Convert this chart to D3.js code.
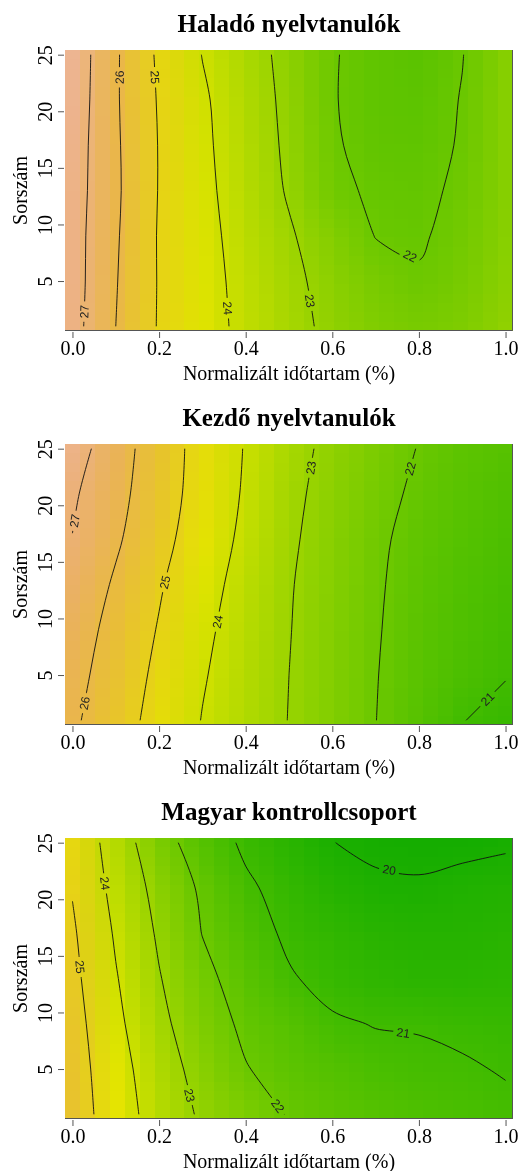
<!DOCTYPE html>
<html>
<head>
<meta charset="utf-8">
<script src="https://cdn.jsdelivr.net/npm/d3@7"></script>
<style>
  body { margin: 0; background: #fff; }
  #wrap { position: relative; width: 522px; height: 1171px; }
  #wrap canvas, #wrap svg { position: absolute; left: 0; top: 0; }
</style>
</head>
<body>
<div id="wrap"></div>
<script>
// grid the fitted surface was read on (x = normalised duration, y = Sorszám)
const xGrid = [0, 0.1, 0.2, 0.3, 0.4, 0.5, 0.6, 0.7, 0.8, 0.9, 1.0];
const yGrid = [1, 5, 9, 13, 17, 21, 25];

// one row per yGrid value, bottom (1) to top (25)
const haladoZ = [
  [27.35, 26.0, 24.93, 24.35, 23.78, 23.28, 22.8, 22.45, 22.3, 22.45, 22.8],
  [27.4, 26.05, 24.94, 24.31, 23.74, 23.21, 22.7, 22.3, 22.06, 22.3, 22.7],
  [27.4, 26.1, 24.93, 24.27, 23.66, 23.09, 22.53, 21.98, 21.93, 22.2, 22.65],
  [27.45, 26.15, 24.96, 24.22, 23.56, 22.92, 22.15, 21.9, 21.85, 22.12, 22.6],
  [27.5, 26.13, 24.96, 24.17, 23.5, 22.85, 22.07, 21.8, 21.75, 22.06, 22.6],
  [27.6, 26.1, 24.92, 24.12, 23.45, 22.8, 22.04, 21.75, 21.7, 22.03, 22.6],
  [27.65, 26.11, 24.85, 23.98, 23.38, 22.74, 22.05, 21.75, 21.65, 21.98, 22.6]
];
const kezdoZ = [
  [26.15, 25.41, 24.68, 23.97, 23.48, 22.98, 22.5, 22.01, 21.52, 21.02, 20.8],
  [26.3, 25.55, 24.8, 24.07, 23.53, 23.0, 22.52, 22.03, 21.6, 21.28, 21.03],
  [26.45, 25.7, 24.94, 24.19, 23.58, 23.03, 22.54, 22.06, 21.65, 21.35, 21.15],
  [26.7, 25.88, 25.09, 24.34, 23.67, 23.06, 22.57, 22.09, 21.7, 21.42, 21.22],
  [26.98, 26.13, 25.29, 24.52, 23.8, 23.13, 22.62, 22.14, 21.75, 21.5, 21.3],
  [27.13, 26.29, 25.43, 24.63, 23.9, 23.2, 22.7, 22.26, 21.85, 21.6, 21.4],
  [27.45, 26.42, 25.48, 24.67, 23.95, 23.3, 22.78, 22.37, 21.97, 21.7, 21.55]
];
const kontrollZ = [
  [25.5, 24.49, 23.57, 22.87, 22.4, 21.95, 21.7, 21.5, 21.35, 21.25, 21.15],
  [25.45, 24.38, 23.43, 22.67, 22.04, 21.7, 21.48, 21.25, 21.15, 21.08, 20.95],
  [25.37, 24.21, 23.23, 22.42, 21.84, 21.52, 21.1, 20.97, 20.95, 20.85, 20.78],
  [25.24, 24.06, 23.05, 22.23, 21.61, 21.08, 20.75, 20.55, 20.45, 20.45, 20.5],
  [25.12, 23.9, 22.88, 21.98, 21.39, 20.85, 20.6, 20.4, 20.3, 20.32, 20.4],
  [24.95, 23.71, 22.7, 21.86, 21.14, 20.69, 20.3, 20.1, 20.07, 20.18, 20.22],
  [24.82, 23.52, 22.39, 21.51, 20.85, 20.42, 20.01, 19.88, 19.83, 19.85, 19.93]
];

const panelTitles = ["Haladó nyelvtanulók", "Kezdő nyelvtanulók", "Magyar kontrollcsoport"];
const panelLevels = [
  [22, 23, 24, 25, 26, 27],
  [21, 22, 23, 24, 25, 26, 27],
  [20, 21, 22, 23, 24, 25]
];
// where each contour label sits: [level, x, y]
const labelSpots = [
  [[27, 0.029, 2.3], [26, 0.105, 23], [25, 0.187, 23], [24, 0.356, 2.6], [23, 0.541, 3.2], [22, 0.769, 6.4]],
  [[27, 0.009, 18.6], [26, 0.029, 2.5], [25, 0.213, 13.2], [24, 0.336, 9.7], [23, 0.537, 23.4], [22, 0.774, 23.3], [21, 0.95, 3.2]],
  [[25, 0.012, 14.0], [24, 0.075, 21.4], [23, 0.255, 2.55], [22, 0.48, 1.9], [21, 0.764, 8.2], [20, 0.73, 22.3]]
];
const xTicks = [0, 0.2, 0.4, 0.6, 0.8, 1.0];
const yTicks = [5, 10, 15, 20, 25];
const xTitle = "Normalizált időtartam (%)";
const yTitle = "Sorszám";

const panels = [haladoZ, kezdoZ, kontrollZ];

const W = 522, H = 1171;
const left = 65, right = 513, plotH = 281, firstTop = 50, panelStep = 394;
const nImg = 30;            // image resolution of the original plot
const zlim = [19.2, 29.7];  // shared colour range
const serif = "'Liberation Serif', 'Times New Roman', serif";
const sans = "'Liberation Sans', Arial, sans-serif";

// R terrain.colors, continuous
function hsv(h, s, v) {
  const i = Math.floor(h * 6), f = h * 6 - i;
  const p = v * (1 - s), q = v * (1 - f * s), t = v * (1 - (1 - f) * s);
  const rgb = [[v, t, p], [q, v, p], [p, v, t], [p, q, v], [t, p, v], [v, p, q]][((i % 6) + 6) % 6];
  return d3.rgb(rgb[0] * 255, rgb[1] * 255, rgb[2] * 255);
}
function terrain(t) {
  if (t <= 0.5) { const f = t / 0.5; return hsv(1 / 3 - f / 6, 1, 0.65 + 0.25 * f); }
  const f = (t - 0.5) / 0.5;
  return hsv(1 / 6 - f / 6, 1 - f, 0.9 + 0.05 * f);
}
const tScale = d3.scaleLinear().domain(zlim).range([0, 1]).clamp(true);
const colour = v => terrain(tScale(v));

const wrap = d3.select("#wrap");
const canvas = wrap.append("canvas").attr("width", W).attr("height", H);
const ctx = canvas.node().getContext("2d");
const svg = wrap.append("svg").attr("width", W).attr("height", H);

const xHalf = 0.5 / (nImg - 1);
const yHalf = 0.5 * 24 / (nImg - 1);
const x = d3.scaleLinear().domain([0 - xHalf, 1 + xHalf]).range([left, right]);

function drawHeat(z, y) {
  const nx = xGrid.length, ny = yGrid.length;
  const small = document.createElement("canvas");
  small.width = nx; small.height = ny;
  const sctx = small.getContext("2d");
  const img = sctx.createImageData(nx, ny);
  z.forEach((row, j) => row.forEach((v, i) => {
    const c = colour(v), k = ((ny - 1 - j) * nx + i) * 4;
    img.data[k] = c.r; img.data[k + 1] = c.g; img.data[k + 2] = c.b; img.data[k + 3] = 255;
  }));
  sctx.putImageData(img, 0, 0);
  // resample to the 30x30 cells of the original image
  const mid = document.createElement("canvas");
  mid.width = nImg; mid.height = nImg;
  const mctx = mid.getContext("2d");
  mctx.imageSmoothingEnabled = true;
  const dw = (nImg - 1) * nx / (nx - 1), dh = (nImg - 1) * ny / (ny - 1);
  mctx.drawImage(small, 0.5 - 0.5 * dw / nx, 0.5 - 0.5 * dh / ny, dw, dh);
  ctx.imageSmoothingEnabled = false;
  const [y0, y1] = y.range();
  ctx.drawImage(mid, left, y1, right - left, y0 - y1);
}

// contour rings -> open isolines (only the parts between grid points)
function isolines(z, levels) {
  const nx = xGrid.length, ny = yGrid.length;
  const gx = d3.scaleLinear().domain([0.5, nx - 0.5]).range([xGrid[0], xGrid[nx - 1]]);
  const gy = d3.scaleLinear().domain([0.5, ny - 0.5]).range([yGrid[0], yGrid[ny - 1]]);
  const onEdge = p => p[0] <= 0 || p[0] >= nx || p[1] <= 0 || p[1] >= ny;
  const out = [];
  d3.contours().size([nx, ny]).thresholds(levels)(z.flat()).forEach(c => {
    c.coordinates.forEach(poly => poly.forEach(ring => {
      const pts = ring.slice(0, -1), n = pts.length;
      const keep = i => !onEdge(pts[i]) && !onEdge(pts[(i + 1) % n]);
      let start = -1;
      for (let i = 0; i < n; i++) if (!keep(i)) { start = (i + 1) % n; break; }
      const toData = p => [gx(p[0]), gy(p[1])];
      if (start < 0) { out.push({ level: c.value, pts: ring.map(toData) }); return; }
      let cur = [];
      for (let k = 0; k < n; k++) {
        const i = (start + k) % n;
        if (keep(i)) {
          if (!cur.length) cur.push(toData(pts[i]));
          cur.push(toData(pts[(i + 1) % n]));
        } else if (cur.length) { out.push({ level: c.value, pts: cur }); cur = []; }
      }
      if (cur.length) out.push({ level: c.value, pts: cur });
    }));
  });
  return out;
}

function nearestOnLines(lines, px, py) {
  let best = null;
  lines.forEach(l => {
    for (let i = 0; i < l.length - 1; i++) {
      const [ax, ay] = l[i], [bx, by] = l[i + 1];
      const dx = bx - ax, dy = by - ay, len2 = dx * dx + dy * dy || 1e-9;
      const t = Math.max(0, Math.min(1, ((px - ax) * dx + (py - ay) * dy) / len2));
      const qx = ax + t * dx, qy = ay + t * dy;
      const d = (qx - px) ** 2 + (qy - py) ** 2;
      if (!best || d < best.d) best = { d, x: qx, y: qy, ang: Math.atan2(dy, dx) * 180 / Math.PI };
    }
  });
  return best;
}

panels.forEach((z, p) => {
  const top = firstTop + p * panelStep, bottom = top + plotH;
  const y = d3.scaleLinear().domain([1 - yHalf, 25 + yHalf]).range([bottom, top]);

  drawHeat(z, y);

  const g = svg.append("g");
  const lines = isolines(z, panelLevels[p]).map(d => ({
    level: d.level, px: d.pts.map(q => [x(q[0]), y(q[1])])
  }));

  // labels and the gaps cut for them
  const mask = svg.append("defs").append("mask").attr("id", "gap" + p)
    .attr("maskUnits", "userSpaceOnUse").attr("x", 0).attr("y", 0).attr("width", W).attr("height", H);
  mask.append("rect").attr("width", W).attr("height", H).attr("fill", "#fff");

  const labels = labelSpots[p].map(([lev, lx, ly]) => {
    const hit = nearestOnLines(lines.filter(l => l.level === lev).map(l => l.px), x(lx), y(ly));
    let a = hit.ang;
    if (a > 90) a -= 180;
    if (a <= -90) a += 180;
    return { lev, x: hit.x, y: hit.y, a };
  });
  labels.forEach(d => {
    const w = String(d.lev).length * 6.7 + 7;
    mask.append("rect").attr("x", -w / 2).attr("y", -6).attr("width", w).attr("height", 12)
      .attr("fill", "#000").attr("transform", `translate(${d.x},${d.y}) rotate(${d.a})`);
  });

  const line = d3.line().curve(d3.curveCatmullRom.alpha(0.5));
  g.append("g").attr("mask", `url(#gap${p})`)
    .selectAll("path").data(lines).join("path")
    .attr("d", d => line(d.px))
    .attr("fill", "none").attr("stroke", "#111").attr("stroke-width", 0.9);

  g.selectAll("text.clab").data(labels).join("text").attr("class", "clab")
    .attr("transform", d => `translate(${d.x},${d.y}) rotate(${d.a})`)
    .attr("text-anchor", "middle").attr("dy", "0.36em")
    .style("font-family", sans).style("font-size", "12px").style("fill", "#222")
    .text(d => d.lev);

  // frame edges visible in the original
  g.append("path")
    .attr("d", `M${left},${bottom - 0.5}H${right - 0.5}V${top}`)
    .attr("fill", "none").attr("stroke", "#555").attr("stroke-width", 1);

  // axes
  const ax = g.append("g").attr("transform", `translate(0,${bottom + 1})`)
    .call(d3.axisBottom(x).tickValues(xTicks).tickFormat(d3.format(".1f")).tickSize(6).tickSizeOuter(0));
  ax.select(".domain").remove();
  ax.selectAll("line").attr("stroke", "#555");
  ax.selectAll("text").attr("y", 22.5).attr("dy", null)
    .style("font-family", serif).style("font-size", "20px").style("fill", "#000");

  const ay = g.append("g").attr("transform", `translate(${left - 1},0)`)
    .call(d3.axisLeft(y).tickValues(yTicks).tickSize(6).tickSizeOuter(0));
  ay.select(".domain").remove();
  ay.selectAll("line").attr("stroke", "#555");
  ay.selectAll("text").attr("x", 0).attr("y", 0).attr("dy", null)
    .attr("text-anchor", "middle").attr("transform", "translate(-12.5,0) rotate(-90)")
    .style("font-family", serif).style("font-size", "20px").style("fill", "#000");

  g.append("text")
    .attr("x", (left + right) / 2).attr("y", bottom + 48.5).attr("text-anchor", "middle")
    .style("font-family", serif).style("font-size", "20px")
    .text(xTitle);
  g.append("text")
    .attr("transform", `translate(27,${(top + bottom) / 2}) rotate(-90)`).attr("text-anchor", "middle")
    .style("font-family", serif).style("font-size", "20px")
    .text(yTitle);
  g.append("text")
    .attr("x", (left + right) / 2).attr("y", top - 18).attr("text-anchor", "middle")
    .style("font-family", serif).style("font-size", "25px").style("font-weight", "bold")
    .text(panelTitles[p]);
});
</script>
</body>
</html>
